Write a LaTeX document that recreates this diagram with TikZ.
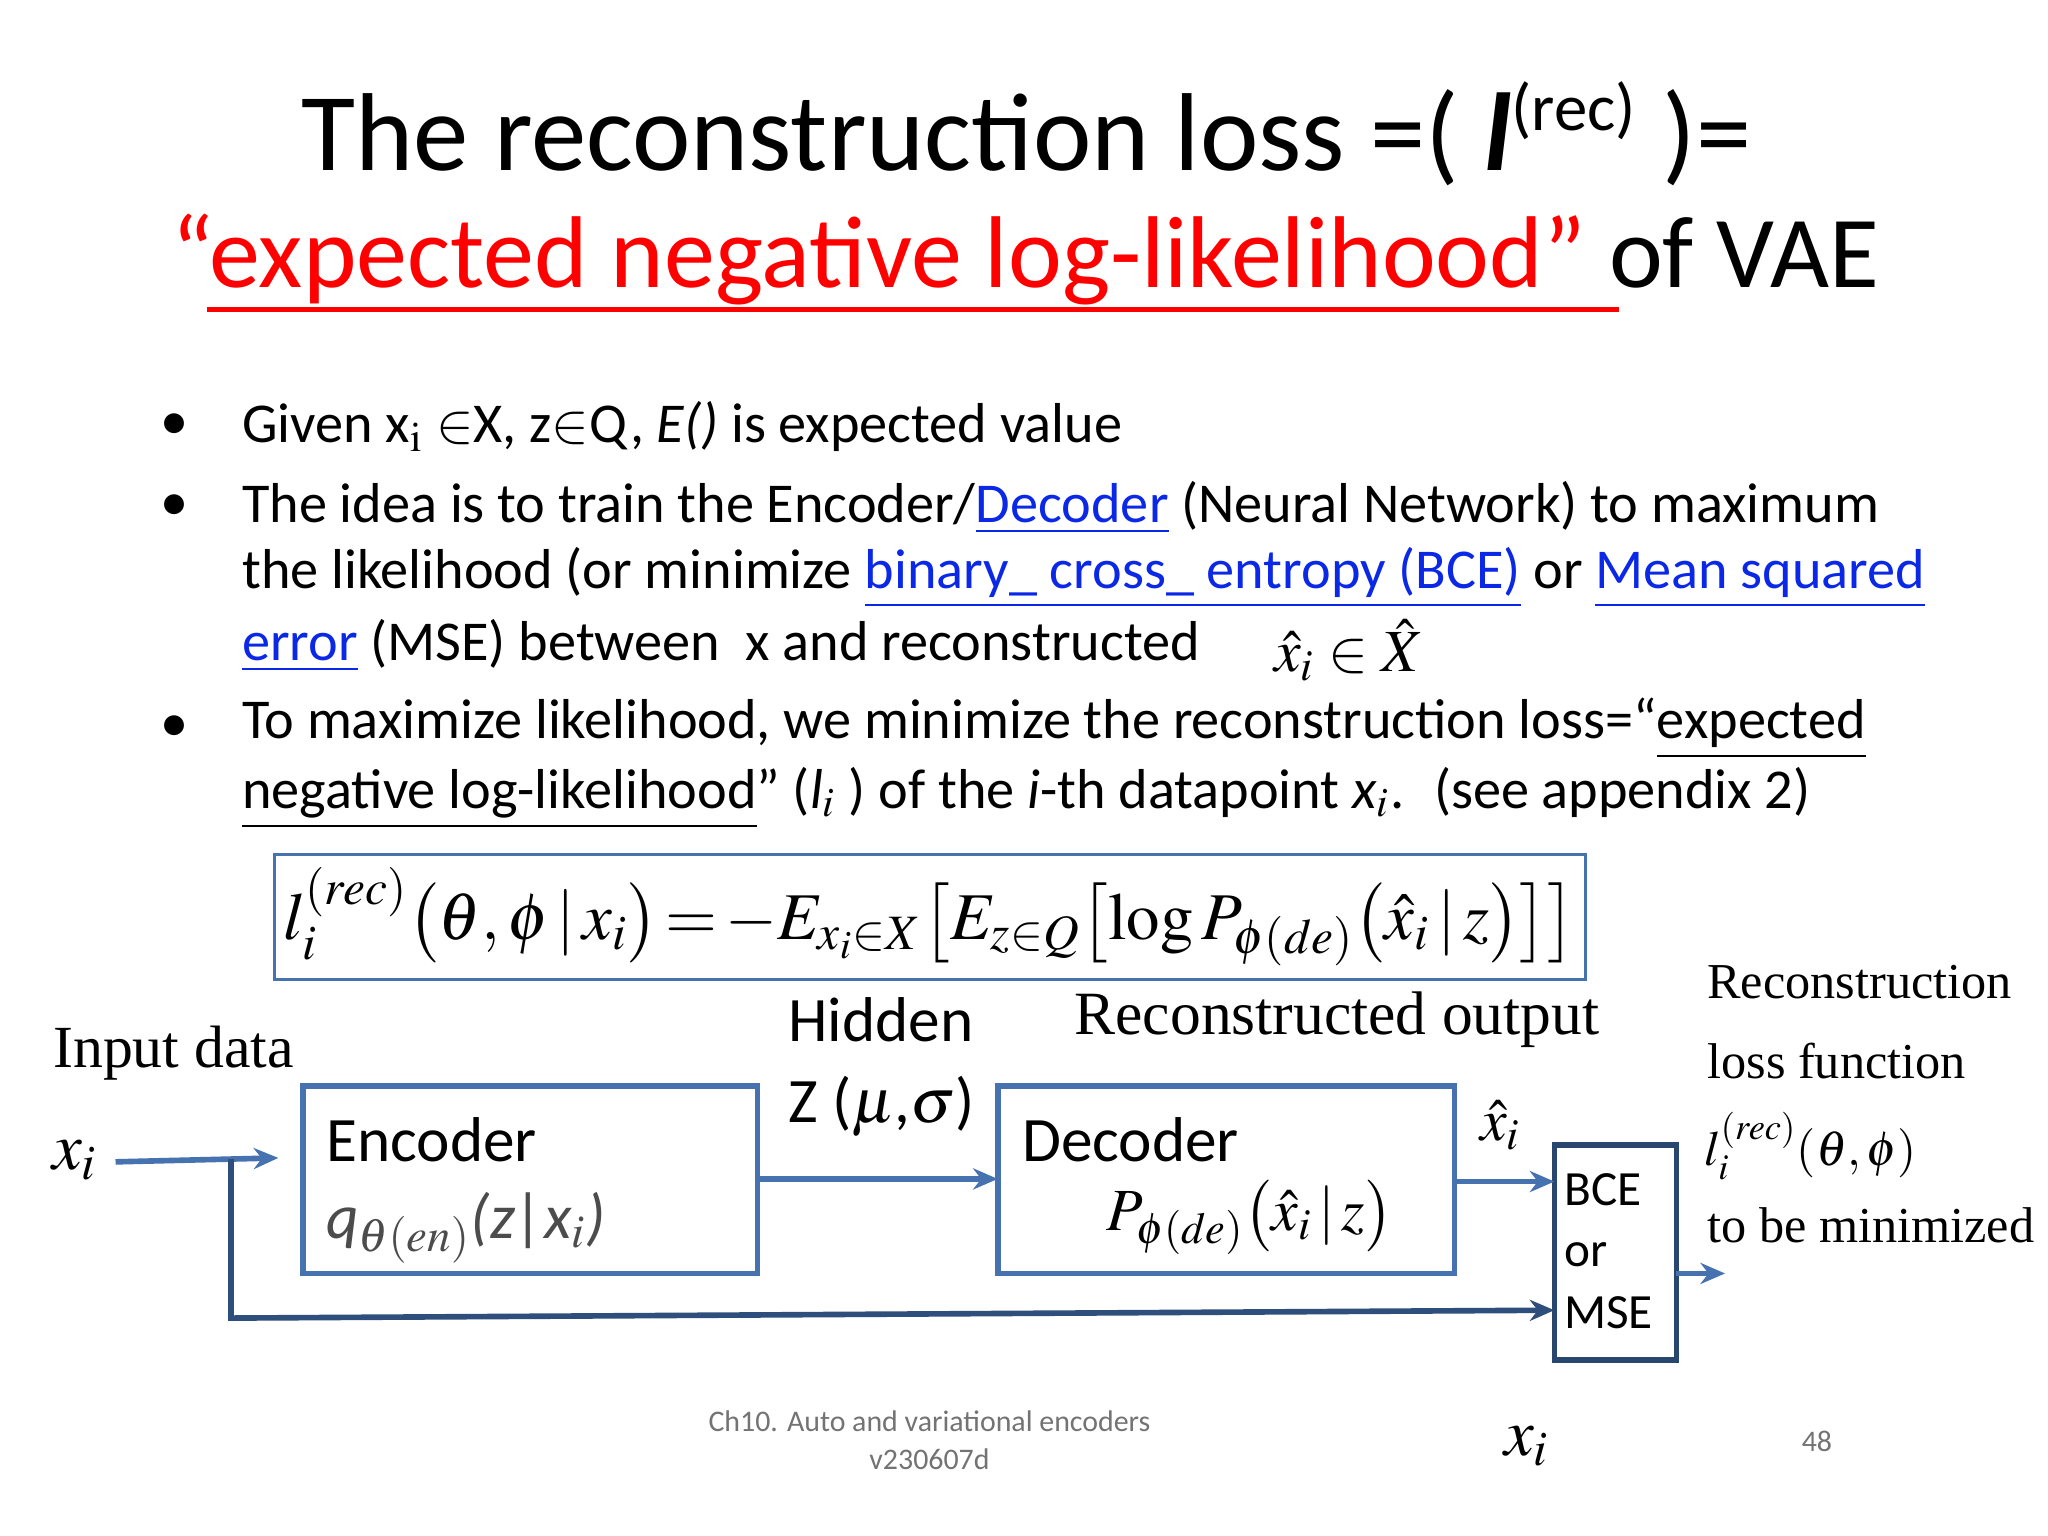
\documentclass[tikz,border=0pt]{standalone}
\usepackage[no-math]{fontspec}
\usepackage{mathptmx}
\setmainfont{Carlito}
\newfontfamily\serif{Liberation Serif}
\usetikzlibrary{arrows.meta}
\definecolor{bx}{RGB}{70,114,176}
\definecolor{bxd}{RGB}{40,70,110}
\definecolor{lnk}{RGB}{10,40,230}
\tikzset{
 blk/.style={draw=bx,line width=1.6pt},
 arr/.style={draw=bx,line width=1.6pt,-{Stealth[length=7pt,width=6pt]}},
 tx/.style={anchor=west,inner sep=0pt,font=\fontsize{16}{19}\selectfont},
 sx/.style={anchor=west,inner sep=0pt,font=\serif\fontsize{14.3}{17}\selectfont},
}
\newcommand{\lk}[1]{\textcolor{lnk}{\underline{#1}}}
\begin{document}
\begin{tikzpicture}[x=0.013128cm,y=-0.013128cm]
\useasboundingbox (0,0) rectangle (1560,1170);
% title
\node[inner sep=0pt,font=\fontsize{31.5}{34}\selectfont] (t1) at (782,102) {The reconstruction loss =( \textbf{\textit{l}}$^{\mbox{\fontsize{19}{20}\selectfont(rec)}}$ )=};
\node[anchor=west,inner sep=0pt,font=\fontsize{29}{34}\selectfont] (t2) at (130,198) {\textcolor{red}{“expected negative log-likelihood” }of VAE};
\draw[red,line width=1.5pt] (158,236) -- (1233,236);
% bullets
\foreach \y in {325,387,555}{\node[tx] at (122,\y) {\textbullet};}
\node[tx] (b1) at (184,325) {Given x$_\mathrm{i}$ $\in$X, z$\in$Q, \textit{E()} is expected value};
\node[tx] (b2) at (184,387) {The idea is to train the Encoder/\lk{Decoder} (Neural Network) to maximum};
\node[tx] (b3) at (184,440) {the likelihood (or minimize \lk{binary\_ cross\_ entropy (BCE)} or \lk{Mean squared}};
\node[tx] (b4) at (184,492) {\lk{error} (MSE) between \ x and reconstructed};
\node[anchor=west,inner sep=0pt,font=\fontsize{17}{20}\selectfont] (b4m) at (970,495) {$\hat{x}_i\in\hat{X}$};
\node[tx] (b5) at (184,555) {To maximize likelihood, we minimize the reconstruction loss=“\underline{expected}};
\node[tx] (b6) at (184,608) {\underline{negative log-likelihood}” (\textit{l$_i$} ) of the \textit{i}-th datapoint \textit{x$_i$}. \ (see appendix 2)};
% equation
\draw[bx,line width=0.8pt] (209,651) rectangle (1208,746);
\node[inner sep=0pt,font=\fontsize{19}{22}\selectfont] (eq) at (708,698) {$l_i^{(rec)}\bigl(\theta,\phi\,|\,x_i\bigr)\!=\!-E_{x_i\in X}\bigl[E_{z\in Q}\bigl[\log P_{\phi(de)}\bigl(\hat{x}_i\,|\,z\bigr)\bigr]\bigr]$};
% diagram
\node[sx,font=\serif\fontsize{17}{20}\selectfont] (inp) at (40,802) {Input data};
\node[inner sep=0pt,font=\fontsize{19}{22}\selectfont] (xi) at (57,884) {$x_i$};
\draw[blk] (231,827) rectangle (577,970);
\node[anchor=west,inner sep=0pt,font=\fontsize{18}{21}\selectfont] (enc) at (248,868) {Encoder};
\node[anchor=west,inner sep=0pt,font=\fontsize{18}{21}\selectfont,text=black!70] (q) at (248,935) {\textit{q$_{\theta(en)}$(z|x$_i$)}};
\node[anchor=west,inner sep=0pt,font=\fontsize{18}{21}\selectfont] (hid) at (600,777) {Hidden};
\node[anchor=west,inner sep=0pt,font=\fontsize{18}{21}\selectfont] (zz) at (600,843) {Z ($\mu$,$\sigma$)};
\draw[blk] (760,827) rectangle (1108,970);
\node[anchor=west,inner sep=0pt,font=\fontsize{18}{21}\selectfont] (dec) at (778,868) {Decoder};
\node[inner sep=0pt,font=\fontsize{17}{21}\selectfont] (pd) at (952,927) {$P_{\phi(de)}\bigl(\hat{x}_i\,|\,z\bigr)$};
\node[sx,font=\serif\fontsize{17.5}{20}\selectfont] (rec) at (818,777) {Reconstructed output};
\node[inner sep=0pt,font=\fontsize{17}{20}\selectfont] (xh) at (1143,857) {$\hat{x}_i$};
\draw[line width=1.6pt,draw=bxd] (1184,872) rectangle (1277,1036);
\node[anchor=north west,inner sep=0pt,align=left,font=\fontsize{14}{17.5}\selectfont] (bce) at (1191,893) {BCE\\or\\MSE};
\coordinate (ia) at (88,885);
\coordinate (ib) at (212,882);
\draw[arr] (ia) -- (ib);
\coordinate (s1) at (176,883);
\coordinate (s2) at (176,1004);
\coordinate (s3) at (1184,998);
\draw[arr,draw=bxd!80!bx] (s1) -- (s2) -- (s3);
\draw[arr] (577,898) -- (760,898);
\draw[arr] (1108,900) -- (1184,900);
\draw[arr] (1277,970) -- (1314,970);
\node[sx] (r1) at (1300,748) {Reconstruction};
\node[sx] (r2) at (1300,808) {loss function};
\node[anchor=west,inner sep=0pt,font=\fontsize{14}{18}\selectfont] (r3) at (1298,873) {$l_i^{(rec)}(\theta,\phi)$};
\node[sx] (r4) at (1300,933) {to be minimized};
% footer
\node[align=center,text=black!55,font=\fontsize{8.5}{11}\selectfont] (ft) at (708,1097) {Ch10. Auto and variational encoders\\v230607d};
\node[inner sep=0pt,font=\fontsize{19}{22}\selectfont] (xf) at (1163,1102) {$x_i$};
\node[text=black!55,font=\fontsize{8.5}{11}\selectfont] (pg) at (1384,1098) {48};
\end{tikzpicture}
\end{document}
